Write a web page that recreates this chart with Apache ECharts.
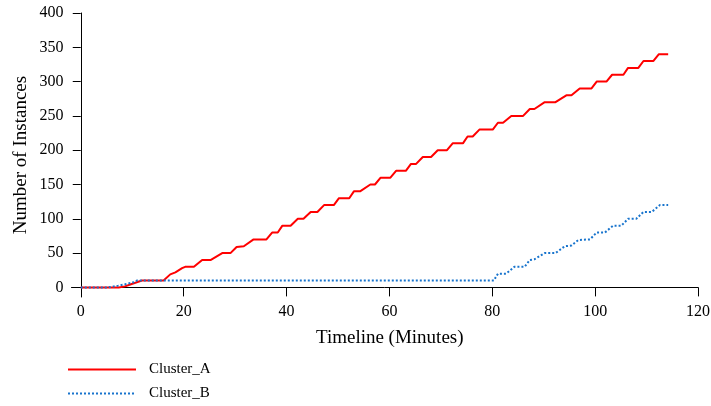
<!DOCTYPE html>
<html>
<head>
<meta charset="utf-8">
<script src="https://cdn.jsdelivr.net/npm/echarts@6/dist/echarts.min.js"></script>
<style>html,body{margin:0;padding:0;background:#fff;}#c{width:711px;height:406px;}</style>
</head>
<body>
<div id="c"></div>
<script>
// Breakpoints: [minute, instances]
const clusterA = [[0,0],[7.4,0],[8.6,1.5],[9.9,5],[11.9,10],[16.1,10],[17.4,19],[18.4,22],[19.7,28],[20.3,30],[22,30],[23.6,40],[25.3,40],[27.5,50],[29.1,50],[30.3,59],[31.7,60],[33.6,70],[36.1,70],[37.2,80],[38.3,80],[39.2,90],[40.8,90],[42.2,100],[43.3,100],[44.7,110],[46,110],[47.3,120],[49.2,120],[50.2,130],[52.2,130],[53.1,140],[54.3,140],[56.3,150],[57.2,150],[58.3,160],[60.2,160],[61.3,170],[63.2,170],[64.2,180],[65.2,180],[66.5,190],[68.1,190],[69.4,200],[71.2,200],[72.3,210],[74.3,210],[75.2,220],[76.2,220],[77.5,230],[80.1,230],[81.1,240],[82.1,240],[83.7,250],[86,250],[87.3,260],[88.2,260],[90.2,270],[92.3,270],[94.4,280],[95.4,280],[97,290],[99.3,290],[100.3,300],[102.2,300],[103.3,310],[105.5,310],[106.4,320],[108.4,320],[109.4,330],[111.3,330],[112.4,340],[114.2,340]];
const clusterB = [[0,0],[5.4,0],[7.3,2.6],[8.6,4.5],[10.3,7.5],[10.9,10],[80.3,10],[81.1,20],[82.7,20],[84.3,30],[86.3,30],[87.3,40],[88.2,41],[90.2,50],[92.3,50],[94.1,60],[95.4,61],[96.7,69],[99,70],[100.3,80],[101.9,80],[103.5,90],[105.1,90],[106.4,100],[108,100],[109.4,110],[111,110],[112.6,120],[114.2,120]];
const xTicks = [0,20,40,60,80,100,120];
const yTicks = [0,50,100,150,200,250,300,350,400];
const seriesNames = ['Cluster_A','Cluster_B'];

const font = 'Liberation Serif';
const chart = echarts.init(document.getElementById('c'), null, {renderer:'canvas'});
chart.setOption({
  animation:false,
  backgroundColor:'#fff',
  grid:{left:71.5, right:13, top:13, bottom:109, outerBoundsMode:'none', containLabel:false},
  legend:{
    orient:'vertical', left:67, top:362, height:44, padding:0, itemWidth:68, itemHeight:14, itemGap:9,
    itemStyle:{color:'rgba(0,0,0,0)', borderWidth:0, opacity:0},
    textStyle:{fontFamily:font, fontSize:15, color:'#000', padding:[0,0,0,8]},
    data:seriesNames
  },
  xAxis:{
    type:'value', min:-1.8, max:120,
    name:'Timeline (Minutes)', nameLocation:'middle', nameGap:32, nameMoveOverlap:false,
    nameTextStyle:{fontFamily:font, fontSize:19, color:'#000', padding:[0,0,0,10]},
    axisLine:{onZero:true, lineStyle:{color:'#000', width:1}},
    axisTick:{customValues:xTicks, length:9, lineStyle:{color:'#000'}},
    axisLabel:{customValues:xTicks, fontFamily:font, fontSize:16, color:'#000', margin:7},
    splitLine:{show:false}
  },
  yAxis:{
    type:'value', min:-14, max:400,
    name:'Number of Instances', nameLocation:'middle', nameGap:41, nameMoveOverlap:false,
    nameTextStyle:{fontFamily:font, fontSize:19, color:'#000'},
    axisLine:{show:true, onZero:true, lineStyle:{color:'#000', width:1}},
    axisTick:{show:true, customValues:yTicks, length:8, lineStyle:{color:'#000'}},
    axisLabel:{customValues:yTicks, fontFamily:font, fontSize:16, color:'#000', margin:8},
    splitLine:{show:false}
  },
  series:[
    {name:seriesNames[0], type:'line', data:clusterA, symbol:'none', lineStyle:{color:'#ff0000', width:2}, itemStyle:{color:'#ff0000'}},
    {name:seriesNames[1], type:'line', data:clusterB, symbol:'none', lineStyle:{color:'#1874cd', width:2, type:[2,2]}, itemStyle:{color:'#1874cd'}}
  ]
});
</script>
</body>
</html>
